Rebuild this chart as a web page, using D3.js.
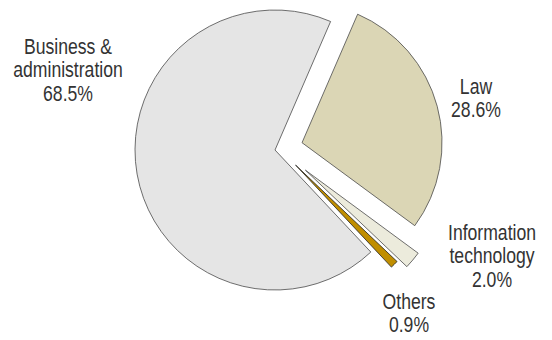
<!DOCTYPE html>
<html>
<head>
<meta charset="utf-8">
<script src="https://cdn.jsdelivr.net/npm/d3@7"></script>
<style>
  body { margin: 0; background: #fff; }
  svg { display: block; }
</style>
</head>
<body>
<svg width="552" height="340"></svg>
<script>
// data
const categories = ['Law', 'Information technology', 'Others', 'Business & administration']
const shares = [28.6, 2.0, 0.9, 68.5]
const labelLines = [['Law', '28.6%'], ['Information', 'technology', '2.0%'], ['Others', '0.9%'], ['Business &', 'administration', '68.5%']]

// styles / layout
const colors = ['#dbd6b5', '#ecebdc', '#c08e00', '#e5e5e5']
const explode = [28, 36.5, 25.5, 0]
const explodeTurn = [0, -6.4, -9, 0]
const labelAt = [[476, 94], [492, 240], [409, 309], [68, 54]]

const svg = d3.select('svg')
const cx = 275, cy = 150, r = 140

let pie = d3.pie()
	.sort(null)
	.startAngle(23.4 * Math.PI / 180)
	.endAngle(23.4 * Math.PI / 180 + 2 * Math.PI)
	.value(d => d)

let arc = d3.arc().innerRadius(0).outerRadius(r)

let arcs = pie(shares)

let g = svg.append('g').attr('transform', `translate(${cx},${cy})`)

g.selectAll('path')
	.data(arcs)
	.enter()
	.append('path')
	.attr('d', arc)
	.attr('fill', (d, i) => colors[i])
	.attr('stroke', (d, i) => i == 2 ? '#222' : '#4a4a4a')
	.attr('stroke-width', 0.8)
	.attr('transform', (d, i) => {
		let a = (d.startAngle + d.endAngle) / 2 + explodeTurn[i] * Math.PI / 180
		return `translate(${explode[i] * Math.sin(a)},${-explode[i] * Math.cos(a)})`
	})

// labels
let labels = svg.selectAll('g.label')
	.data(labelLines)
	.enter()
	.append('g')
	.attr('class', 'label')
	.attr('transform', (d, i) => `translate(${labelAt[i][0]},${labelAt[i][1]}) scale(0.8,1)`)

labels.append('text')
	.attr('text-anchor', 'middle')
	.attr('font-family', 'Liberation Sans, Arial, sans-serif')
	.attr('font-size', 22)
	.attr('fill', '#333')
	.selectAll('tspan')
	.data(d => d)
	.enter()
	.append('tspan')
	.attr('x', 0)
	.attr('y', (d, j) => j * 23.3)
	.text(d => d)
</script>
</body>
</html>
